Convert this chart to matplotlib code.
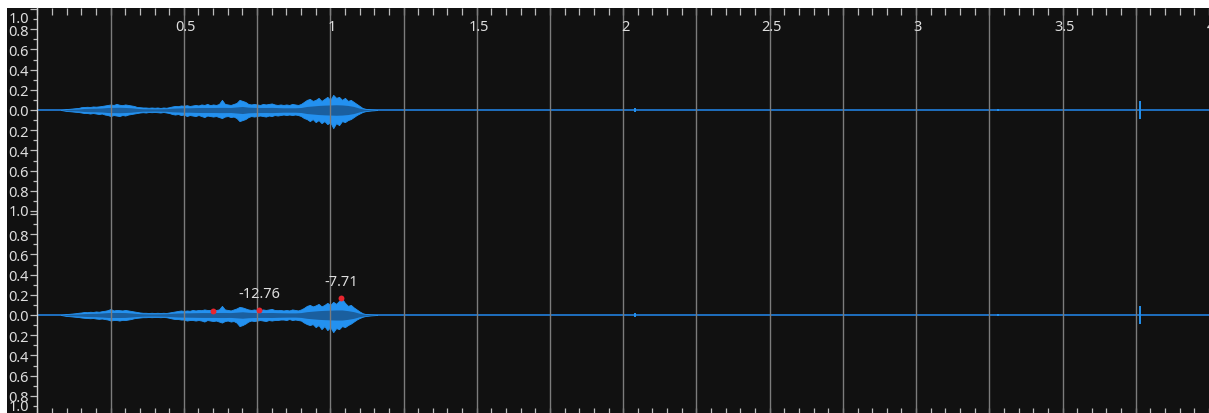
import numpy as np
import matplotlib
matplotlib.use('Agg')
import matplotlib.pyplot as plt
from matplotlib.patches import Rectangle
from matplotlib.transforms import blended_transform_factory

plt.rcParams['font.family'] = ['Noto Sans', 'DejaVu Sans']

# ---------------- data ----------------
duration = 4.0
# envelope sample times (s), 0.01 s grid over the audible part
t_env = np.round(np.arange(0.08, 1.165, 0.01), 2)

ch1_max = [0.0, 0.005, 0.01, 0.012, 0.015, 0.018, 0.02, 0.028, 0.03, 0.032,
           0.03, 0.035, 0.033, 0.036, 0.04, 0.045, 0.05, 0.055, 0.05, 0.06,
           0.052, 0.048, 0.055, 0.05, 0.045, 0.04, 0.03, 0.028, 0.025, 0.025,
           0.022, 0.025, 0.022, 0.025, 0.02, 0.025, 0.022, 0.028, 0.035, 0.04,
           0.038, 0.045, 0.042, 0.048, 0.04, 0.045, 0.05, 0.045, 0.055, 0.05,
           0.06, 0.048, 0.055, 0.05, 0.06, 0.10, 0.06, 0.055, 0.05, 0.06,
           0.07, 0.10, 0.09, 0.08, 0.06, 0.055, 0.06, 0.055, 0.05, 0.06,
           0.055, 0.06, 0.065, 0.055, 0.05, 0.055, 0.05, 0.055, 0.05, 0.06,
           0.055, 0.05, 0.06, 0.08, 0.10, 0.11, 0.09, 0.10, 0.12, 0.09,
           0.11, 0.13, 0.10, 0.15, 0.12, 0.13, 0.10, 0.12, 0.09, 0.10,
           0.08, 0.06, 0.04, 0.02, 0.012, 0.008, 0.005, 0.003, 0.0]
ch1_min = [0.0, -0.005, -0.01, -0.012, -0.015, -0.018, -0.02, -0.025, -0.03, -0.03,
           -0.035, -0.03, -0.035, -0.04, -0.035, -0.045, -0.05, -0.06, -0.05, -0.055,
           -0.06, -0.05, -0.055, -0.045, -0.04, -0.035, -0.03, -0.025, -0.022, -0.025,
           -0.02, -0.022, -0.02, -0.022, -0.025, -0.02, -0.025, -0.03, -0.04, -0.045,
           -0.04, -0.05, -0.045, -0.06, -0.05, -0.055, -0.06, -0.05, -0.06, -0.07,
           -0.055, -0.06, -0.065, -0.06, -0.07, -0.08, -0.065, -0.06, -0.07, -0.065,
           -0.08, -0.11, -0.10, -0.09, -0.07, -0.06, -0.065, -0.06, -0.055, -0.06,
           -0.065, -0.055, -0.06, -0.05, -0.055, -0.05, -0.045, -0.05, -0.045, -0.05,
           -0.045, -0.05, -0.06, -0.08, -0.09, -0.11, -0.09, -0.12, -0.10, -0.13,
           -0.11, -0.14, -0.12, -0.18, -0.13, -0.15, -0.11, -0.12, -0.10, -0.09,
           -0.07, -0.05, -0.035, -0.02, -0.012, -0.008, -0.005, -0.003, 0.0]

ch2_max = [0.0, 0.005, 0.01, 0.012, 0.015, 0.018, 0.022, 0.025, 0.03, 0.028,
           0.032, 0.03, 0.035, 0.032, 0.038, 0.042, 0.048, 0.06, 0.045, 0.05,
           0.048, 0.045, 0.05, 0.045, 0.04, 0.035, 0.03, 0.025, 0.022, 0.022,
           0.02, 0.022, 0.02, 0.022, 0.02, 0.022, 0.02, 0.025, 0.03, 0.035,
           0.04, 0.045, 0.04, 0.045, 0.042, 0.05, 0.045, 0.05, 0.048, 0.055,
           0.05, 0.05, 0.045, 0.05, 0.055, 0.09, 0.055, 0.05, 0.045, 0.055,
           0.065, 0.08, 0.075, 0.065, 0.055, 0.05, 0.055, 0.05, 0.048, 0.055,
           0.05, 0.055, 0.06, 0.05, 0.048, 0.05, 0.045, 0.05, 0.045, 0.055,
           0.05, 0.045, 0.055, 0.07, 0.09, 0.10, 0.085, 0.095, 0.11, 0.085,
           0.10, 0.12, 0.10, 0.13, 0.11, 0.14, 0.16, 0.12, 0.09, 0.10,
           0.075, 0.055, 0.035, 0.018, 0.01, 0.007, 0.004, 0.002, 0.0]
ch2_min = [0.0, -0.005, -0.01, -0.012, -0.015, -0.018, -0.02, -0.025, -0.028, -0.03,
           -0.032, -0.03, -0.035, -0.038, -0.035, -0.04, -0.045, -0.055, -0.05, -0.05,
           -0.055, -0.048, -0.05, -0.045, -0.04, -0.032, -0.028, -0.025, -0.022, -0.022,
           -0.02, -0.022, -0.02, -0.02, -0.022, -0.02, -0.022, -0.028, -0.035, -0.04,
           -0.04, -0.045, -0.045, -0.055, -0.05, -0.05, -0.055, -0.05, -0.055, -0.065,
           -0.05, -0.055, -0.06, -0.055, -0.065, -0.075, -0.06, -0.055, -0.065, -0.06,
           -0.075, -0.11, -0.10, -0.085, -0.065, -0.055, -0.06, -0.055, -0.05, -0.055,
           -0.06, -0.05, -0.055, -0.05, -0.05, -0.045, -0.045, -0.05, -0.04, -0.05,
           -0.045, -0.05, -0.055, -0.075, -0.09, -0.10, -0.09, -0.12, -0.10, -0.14,
           -0.11, -0.15, -0.12, -0.17, -0.13, -0.14, -0.11, -0.12, -0.10, -0.085,
           -0.065, -0.045, -0.03, -0.018, -0.01, -0.007, -0.004, -0.002, 0.0]

# RMS band on a 0.02 s grid
t_rms = np.round(np.arange(0.08, 1.165, 0.02), 2)
ch1_rms = [0.0, 0.005, 0.008, 0.01, 0.015, 0.017, 0.018, 0.02, 0.025, 0.026,
           0.027, 0.025, 0.022, 0.016, 0.012, 0.012, 0.011, 0.012, 0.013, 0.018,
           0.02, 0.022, 0.022, 0.024, 0.025, 0.025, 0.025, 0.026, 0.026, 0.025,
           0.03, 0.035, 0.028, 0.026, 0.025, 0.025, 0.026, 0.024, 0.022, 0.022,
           0.022, 0.025, 0.035, 0.04, 0.045, 0.048, 0.05, 0.052, 0.05, 0.045,
           0.035, 0.018, 0.006, 0.003, 0.0]
ch2_rms = [0.0, 0.005, 0.008, 0.01, 0.014, 0.016, 0.017, 0.02, 0.024, 0.025,
           0.025, 0.024, 0.02, 0.015, 0.012, 0.011, 0.011, 0.012, 0.013, 0.017,
           0.02, 0.021, 0.022, 0.023, 0.024, 0.024, 0.024, 0.025, 0.025, 0.024,
           0.028, 0.032, 0.027, 0.025, 0.024, 0.024, 0.025, 0.023, 0.022, 0.021,
           0.021, 0.024, 0.033, 0.038, 0.043, 0.046, 0.048, 0.05, 0.05, 0.043,
           0.033, 0.017, 0.006, 0.003, 0.0]

# short clicks later in the file
click_t = [2.04, 3.28, 3.765]
click_amp = [0.018, 0.008, 0.09]

# peak markers on channel 2
peak_t = [0.599, 0.758, 1.036]
peak_v = [0.04, 0.045, 0.165]
peak_labels = ['', '-12.76', '-7.71']

x_labels = ['0.5', '1', '1.5', '2', '2.5', '3', '3.5', '4']
x_label_pos = [0.5, 1.0, 1.5, 2.0, 2.5, 3.0, 3.5, 4.0]
y_major = [-0.8, -0.6, -0.4, -0.2, 0.0, 0.2, 0.4, 0.6, 0.8]

# ---------------- style ----------------
W, H = 1209, 414
BG = '#111111'
BRIGHT = '#2391f0'
DARK = '#1a5f9f'
LINE = '#1f6fbf'
GRID = '#7c7c7c'
TXT = '#dedede'
TICK = '#bdbdbd'
FS = 10.5

fig = plt.figure(figsize=(W / 100, H / 100), dpi=100, facecolor='white')
fig.patches.append(Rectangle((7 / W, 0), 1, (H - 9) / H, transform=fig.transFigure,
                             facecolor=BG, edgecolor='none', zorder=-10))

px_per_s = 293.2
x0_px = 37.4
xmax = (W - x0_px) / px_per_s
scale = 101.0  # px per amplitude unit

def make_axes(top_px, bot_px, zero_px):
    ax = fig.add_axes([x0_px / W, (H - bot_px) / H, (W - x0_px) / W, (bot_px - top_px) / H])
    ax.set_facecolor(BG)
    ax.set_xlim(0, xmax)
    ax.set_ylim(-(bot_px - zero_px) / scale, (zero_px - top_px) / scale)
    for s in ['top', 'right', 'bottom']:
        ax.spines[s].set_visible(False)
    ax.spines['left'].set_color('#cfcfcf')
    ax.spines['left'].set_linewidth(1.0)
    return ax

ax1 = make_axes(9.0, 213.5, 111.0)
ax2 = make_axes(213.5, 418.0, 316.0)

for ax, wmax, wmin, rms in [(ax1, ch1_max, ch1_min, ch1_rms), (ax2, ch2_max, ch2_min, ch2_rms)]:
    ax.plot([0, duration], [0, 0], color=LINE, lw=1.4, zorder=2, solid_capstyle='butt')
    ax.fill_between(t_env, wmin, wmax, color=BRIGHT, lw=0.6, edgecolor=BRIGHT, zorder=3)
    ax.fill_between(t_rms, -np.array(rms), rms, color=DARK, lw=0, zorder=4)
    ax.vlines(click_t, -np.array(click_amp), click_amp, color=BRIGHT, lw=1.4, zorder=6)
    for g in np.arange(0.25, 4.0, 0.25):
        ax.axvline(g, color=GRID, lw=1.0, zorder=5)
    # y ticks
    ax.set_yticks([-1.0] + y_major + [1.0])
    ax.set_yticklabels([''] + ['%.1f' % abs(v) for v in y_major] + [''])
    ax.set_yticks(np.arange(-0.9, 0.95, 0.2), minor=True)
    ax.tick_params(axis='y', which='major', direction='out', length=5, width=0.9,
                   color=TICK, labelcolor=TXT, labelsize=FS, pad=1.5)
    ax.tick_params(axis='y', which='minor', direction='out', length=3, width=0.9, color=TICK)
    ax.set_xticks(np.arange(0, 4.001, 0.05))
    ax.set_xticklabels([])

ax1.tick_params(axis='x', which='major', top=True, bottom=False, direction='in',
                length=5, width=0.9, color=TICK, labeltop=False, labelbottom=False)
ax2.tick_params(axis='x', which='major', top=False, bottom=True, direction='in',
                length=6.5, width=0.9, color=TICK, labeltop=False, labelbottom=False)

# x labels inside the top channel
tr = blended_transform_factory(ax1.transData, ax1.transAxes)
for xp, lab in zip(x_label_pos, x_labels):
    ax1.text(xp + 0.006, 1 - 18.5 / 204.5, lab, transform=tr, ha='center', va='center',
             color=TXT, fontsize=FS, zorder=6)

# clamped edge labels "1.0"
for ypx in [19.5, 213.0, 407.5]:
    fig.text(29.5 / W, (H - ypx) / H, '1.0', ha='right', va='center', color=TXT, fontsize=FS)

# peak markers
ax2.scatter(peak_t, peak_v, s=18, color='#e8262f', zorder=7, linewidths=0)
for xp, yp, lab in zip(peak_t, peak_v, peak_labels):
    if lab:
        ax2.annotate(lab, (xp, yp), xytext=(0, 12), textcoords='offset points',
                     ha='center', va='center', color=TXT, fontsize=10.5, zorder=7)

fig.savefig('out.png', dpi=100, facecolor='white')
